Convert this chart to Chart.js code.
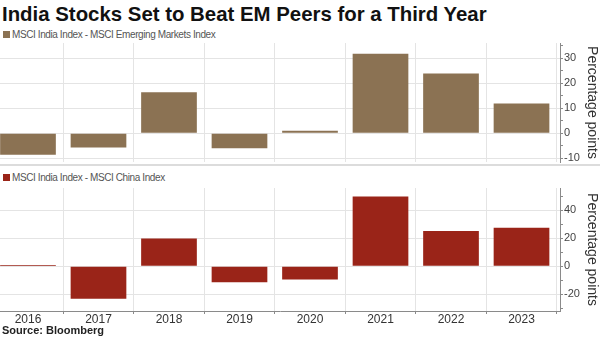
<!DOCTYPE html>
<html>
<head>
<meta charset="utf-8">
<script src="https://cdn.jsdelivr.net/npm/chart.js@4"></script>
<style>
  body { margin: 0; width: 600px; height: 337px; background: #fff; position: relative; overflow: hidden; font-family: "Liberation Sans", Arial, sans-serif; }
  #title { position: absolute; left: 2px; top: 3px; font-size: 20.4px; font-weight: bold; color: #111; white-space: nowrap; }
  .legend { position: absolute; left: 3px; font-size: 10px; letter-spacing: -0.4px; color: #555; white-space: nowrap; line-height: 12px; }
  .legend i { display: inline-block; width: 7px; height: 7px; margin-right: 2px; vertical-align: 0; }
  #topLegend { top: 29px; }
  #botLegend { top: 172px; }
  #topBox { position: absolute; left: 0; top: 42px; width: 600px; height: 122px; }
  #sep { position: absolute; left: 0; top: 164px; width: 600px; height: 0; border-top: 2px solid #dcdcdc; }
  #botBox { position: absolute; left: 0; top: 187px; width: 600px; height: 140px; }
  #source { position: absolute; left: 2px; top: 324px; font-size: 11px; font-weight: bold; color: #222; }
</style>
</head>
<body>
<div id="title">India Stocks Set to Beat EM Peers for a Third Year</div>
<div id="topLegend" class="legend"></div>
<div id="topBox"><canvas id="topChart"></canvas></div>
<div id="sep"></div>
<div id="botLegend" class="legend"></div>
<div id="botBox"><canvas id="botChart"></canvas></div>
<div id="source">Source: Bloomberg</div>
<script>
// data
const years = [2016, 2017, 2018, 2019, 2020, 2021, 2022, 2023];
const indiaVsEM = [-8.6, -5.7, 16.3, -6.0, 1.0, 31.7, 23.8, 11.9];
const indiaVsChina = [1.0, -23.2, 19.9, -11.5, -9.4, 49.9, 25.2, 27.6];
const topLabel = 'MSCI India Index - MSCI Emerging Markets Index';
const botLabel = 'MSCI India Index - MSCI China Index';

const gridColor = '#e4e4e4';
const axisColor = '#8a8a8a';
const tickFont = { family: 'Liberation Sans', size: 11 };

function fillLegend(id, label, color) {
  const el = document.getElementById(id);
  const box = document.createElement('i');
  box.style.background = color;
  el.appendChild(box);
  el.appendChild(document.createTextNode(label));
}

function makeChart(canvasId, label, values, color, yMin, yMax, labelStep, showYears) {
  const ctx = document.getElementById(canvasId).getContext('2d');
  return new Chart(ctx, {
    type: 'bar',
    data: {
      datasets: [{
        label: label,
        data: years.map((y, i) => ({ x: y, y: values[i] })),
        backgroundColor: color,
        borderWidth: 0,
        barPercentage: 0.79,
        categoryPercentage: 1
      }]
    },
    options: {
      responsive: true,
      maintainAspectRatio: false,
      animation: false,
      layout: { padding: { left: 0, right: 0, top: 1, bottom: showYears ? 0 : 2 } },
      plugins: {
        tooltip: { enabled: false },
        legend: { display: false }
      },
      scales: {
        x: {
          type: 'linear',
          offset: false,
          min: 2015.603,
          max: 2023.546,
          afterBuildTicks: s => { s.ticks = years.map(v => ({ value: v })); },
          afterFit: s => { s.height = showYears ? 16 : 0; s.paddingLeft = 0; s.paddingRight = 0; },
          grid: { color: gridColor, drawTicks: showYears, tickLength: 3, tickColor: axisColor },
          border: { display: showYears, color: axisColor },
          ticks: {
            display: showYears,
            autoSkip: false,
            color: '#333',
            font: { family: 'Liberation Sans', size: 12 },
            padding: -2,
            maxRotation: 0,
            callback: v => String(v)
          }
        },
        y: {
          position: 'right',
          min: yMin,
          max: yMax,
          afterFit: s => { s.width = 40; s.paddingTop = 0; s.paddingBottom = 0; },
          grid: {
            color: c => (c.tick && c.tick.value % labelStep === 0) ? gridColor : 'rgba(0,0,0,0)',
            tickColor: axisColor,
            tickLength: 3
          },
          border: { display: true, color: axisColor },
          ticks: {
            stepSize: labelStep / 2,
            includeBounds: false,
            autoSkip: false,
            color: '#444',
            font: tickFont,
            padding: 1,
            callback: v => (v % labelStep === 0) ? String(v) : ''
          },
          title: {
            display: true,
            text: 'Percentage points',
            color: '#333',
            font: { family: 'Liberation Sans', size: 14 },
            padding: 0
          }
        }
      }
    }
  });
}

fillLegend('topLegend', topLabel, '#8b7253');
fillLegend('botLegend', botLabel, '#9a2418');
makeChart('topChart', topLabel, indiaVsEM, '#8b7253', -11.5, 36, 10, false);
makeChart('botChart', botLabel, indiaVsChina, '#9a2418', -32, 56, 20, true);
</script>
</body>
</html>
